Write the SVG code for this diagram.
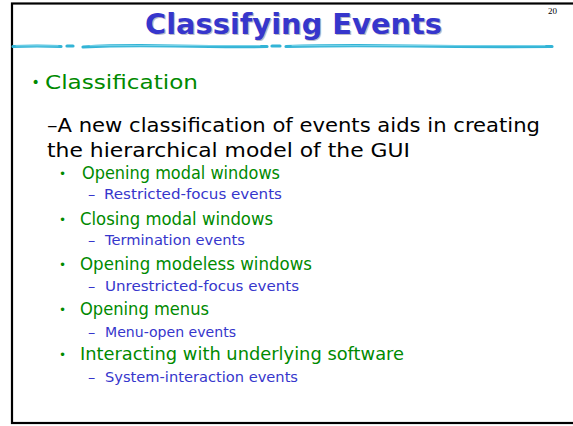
<svg xmlns="http://www.w3.org/2000/svg" width="573" height="426" viewBox="0 0 573 426">
  <defs>
    <style>
      .frame { fill: none; stroke: #000; stroke-width: 2.2; }
      .rule { fill: none; stroke: #33b4d6; stroke-width: 3.2; stroke-linecap: round; }
      .rule-hi { fill: none; stroke: #9fe3f2; stroke-width: 0.9; stroke-linecap: round; opacity: 0.8; }
      .title { font-family: "DejaVu Sans", "Liberation Sans", sans-serif; font-weight: bold; font-size: 29px; fill: #3636cc; }
      .title-shadow { font-family: "DejaVu Sans", "Liberation Sans", sans-serif; font-weight: bold; font-size: 29px; fill: #5a5a7a; opacity: 0.4; }
      .pageno { font-family: "Liberation Serif", serif; font-size: 9px; fill: #000; }
      .l1 { font-family: "DejaVu Sans", "Liberation Sans", sans-serif; font-size: 20px; fill: #008a00; }
      .dot1 { font-family: "DejaVu Sans", "Liberation Sans", sans-serif; font-size: 14px; fill: #008a00; }
      .body { font-family: "DejaVu Sans", "Liberation Sans", sans-serif; font-size: 20px; fill: #000; }
      .l3 { font-family: "DejaVu Sans", "Liberation Sans", sans-serif; font-size: 17.5px; fill: #008a00; }
      .dot3 { font-family: "DejaVu Sans", "Liberation Sans", sans-serif; font-size: 12px; fill: #008a00; }
      .l4 { font-family: "DejaVu Sans", "Liberation Sans", sans-serif; font-size: 14.5px; fill: #3636cc; }
    </style>
  </defs>

  <rect width="573" height="426" fill="#fff"/>

  <!-- slide frame, running off the right edge -->
  <rect class="frame" x="12" y="3.5" width="600" height="419.5"/>

  <!-- page number -->
  <text class="pageno" x="548" y="14">20</text>

  <!-- title -->
  <g id="title">
    <text class="title-shadow" x="146.2" y="34.7" textLength="297" lengthAdjust="spacingAndGlyphs">Classifying Events</text>
    <text class="title" x="145" y="33.5" textLength="297" lengthAdjust="spacingAndGlyphs">Classifying Events</text>
  </g>

  <!-- hand-drawn rule under the title -->
  <g id="title-rule">
    <path class="rule" d="M13 46.5 Q37 45.5 61 46.5"/>
    <path class="rule" d="M67 46 L73 46"/>
    <path class="rule" d="M83 47 Q120 45 175 46 T267 46.5"/>
    <path class="rule" d="M272 46 L280 46"/>
    <path class="rule" d="M286 46.5 Q340 45 410 46 T552 46.5"/>
    <path class="rule-hi" d="M16 45.8 L58 45.8 M90 45.7 L260 45.6 M292 45.7 L545 45.6"/>
  </g>

  <!-- level 1 heading -->
  <g id="classification">
    <text class="dot1" x="31.5" y="86.5">•</text>
    <text class="l1" x="45" y="89" textLength="153" lengthAdjust="spacingAndGlyphs">Classification</text>
  </g>

  <!-- level 2 paragraph -->
  <g id="intro">
    <text class="body" x="47" y="132" textLength="493" lengthAdjust="spacingAndGlyphs">–A new classification of events aids in creating</text>
    <text class="body" x="47" y="157" textLength="363" lengthAdjust="spacingAndGlyphs">the hierarchical model of the GUI</text>
  </g>

  <!-- event classes -->
  <g id="item-modal-open">
    <text class="dot3" x="59" y="178">•</text>
    <text class="l3" x="82" y="179" textLength="198" lengthAdjust="spacingAndGlyphs">Opening modal windows</text>
    <text class="l4" x="88" y="199">–</text>
    <text class="l4" x="104" y="199" textLength="178" lengthAdjust="spacingAndGlyphs">Restricted-focus events</text>
  </g>

  <g id="item-modal-close">
    <text class="dot3" x="59" y="223.5">•</text>
    <text class="l3" x="80" y="224.5" textLength="193" lengthAdjust="spacingAndGlyphs">Closing modal windows</text>
    <text class="l4" x="88" y="245">–</text>
    <text class="l4" x="105" y="245" textLength="140" lengthAdjust="spacingAndGlyphs">Termination events</text>
  </g>

  <g id="item-modeless-open">
    <text class="dot3" x="59" y="269">•</text>
    <text class="l3" x="80" y="270" textLength="232" lengthAdjust="spacingAndGlyphs">Opening modeless windows</text>
    <text class="l4" x="88" y="291">–</text>
    <text class="l4" x="105" y="291" textLength="194" lengthAdjust="spacingAndGlyphs">Unrestricted-focus events</text>
  </g>

  <g id="item-menu-open">
    <text class="dot3" x="59" y="314">•</text>
    <text class="l3" x="80" y="315" textLength="129" lengthAdjust="spacingAndGlyphs">Opening menus</text>
    <text class="l4" x="88" y="337">–</text>
    <text class="l4" x="105" y="337" textLength="131" lengthAdjust="spacingAndGlyphs">Menu-open events</text>
  </g>

  <g id="item-system">
    <text class="dot3" x="59" y="359">•</text>
    <text class="l3" x="80" y="360" textLength="324" lengthAdjust="spacingAndGlyphs">Interacting with underlying software</text>
    <text class="l4" x="88" y="382">–</text>
    <text class="l4" x="105" y="382" textLength="193" lengthAdjust="spacingAndGlyphs">System-interaction events</text>
  </g>
</svg>
